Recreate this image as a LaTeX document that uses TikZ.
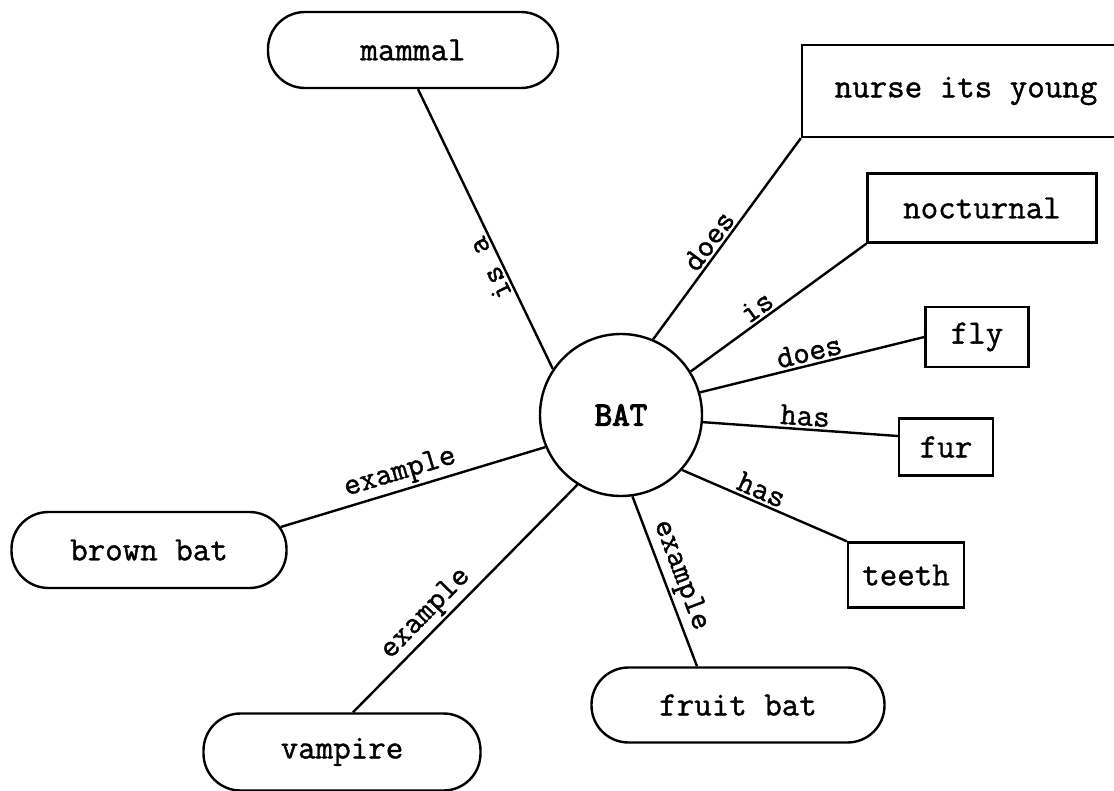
\documentclass[tikz,border=0pt]{standalone}
\usepackage{fontspec}
\newfontfamily\twfont{Latin Modern Mono}[FakeBold=1.2]
\newfontfamily\twbold{Latin Modern Mono}[FakeBold=3.5]
\newcommand\nodefnt{\twfont\fontsize{34}{36}\selectfont}
\newcommand\lblfnt{\twfont\fontsize{32}{34}\selectfont}
\newcommand\hubfnt{\twbold\fontsize{34}{36}\selectfont}
\begin{document}
\begin{tikzpicture}[x=1pt,y=-1pt,
  stadium/.style={draw, line width=2.4pt, rounded corners=37pt, inner sep=0pt, minimum height=76pt, font=\nodefnt},
  sqbox/.style={draw, line width=2.4pt, inner sep=0pt, font=\nodefnt},
  hub/.style={draw, circle, line width=2.4pt, inner sep=0pt, minimum size=162pt, font=\hubfnt},
  link/.style={line width=2.4pt},
  lbl/.style={font=\lblfnt, inner sep=2.5pt, anchor=south}]
\useasboundingbox (0,0) rectangle (1114,791);
\clip (0,0) rectangle (1114,791);
% nodes
\node[hub] (bat) at (621,415) {BAT};
\node[stadium, minimum width=290pt] (mammal) at (413,50) {mammal};
\node[sqbox, minimum width=328pt, minimum height=92pt] (nurse) at (966,91) {nurse its young};
\node[sqbox, minimum width=229pt, minimum height=69pt] (noct) at (982,208) {nocturnal};
\node[sqbox, minimum width=103pt, minimum height=60pt] (fly) at (977,337) {fly};
\node[sqbox, minimum width=94pt, minimum height=57pt] (fur) at (946,447) {fur};
\node[sqbox, minimum width=116pt, minimum height=65pt] (teeth) at (906,575) {teeth};
\node[stadium, minimum width=293pt, minimum height=75pt] (fruit) at (738,705) {fruit bat};
\node[stadium, minimum width=275pt] (brown) at (149,550) {brown bat};
\node[stadium, minimum width=277pt, minimum height=77pt] (vamp) at (342,752) {vampire};
% connectors
\draw[link] (bat.146) -- node[lbl, pos=0.38, rotate=116] {is a} ([xshift=5pt]mammal.south);
\draw[link] (bat.67) -- node[lbl, pos=0.45, rotate=53.6] {does} (nurse.south west);
\draw[link] (bat.32) -- node[lbl, pos=0.42, rotate=36] {is} (noct.south west);
\draw[link] (bat.16) -- node[lbl, pos=0.5, rotate=13.5] {does} (fly.west);
\draw[link] (bat.-5) -- node[lbl, pos=0.52, rotate=-4] {has} ([yshift=11pt]fur.west);
\draw[link] (bat.-42) -- node[lbl, pos=0.45, rotate=-23.7] {has} (teeth.north west);
\draw[link] (bat.-82) -- node[lbl, pos=0.5, rotate=-69.4] {example} ([xshift=-41pt]fruit.north);
\draw[link] (bat.203) -- node[lbl, pos=0.53, rotate=16.8] {example} ([xshift=-7pt,yshift=23pt]brown.east);
\draw[link] (bat.238) -- node[lbl, pos=0.62, rotate=45.8] {example} ([xshift=11pt]vamp.north);
\end{tikzpicture}
\end{document}
